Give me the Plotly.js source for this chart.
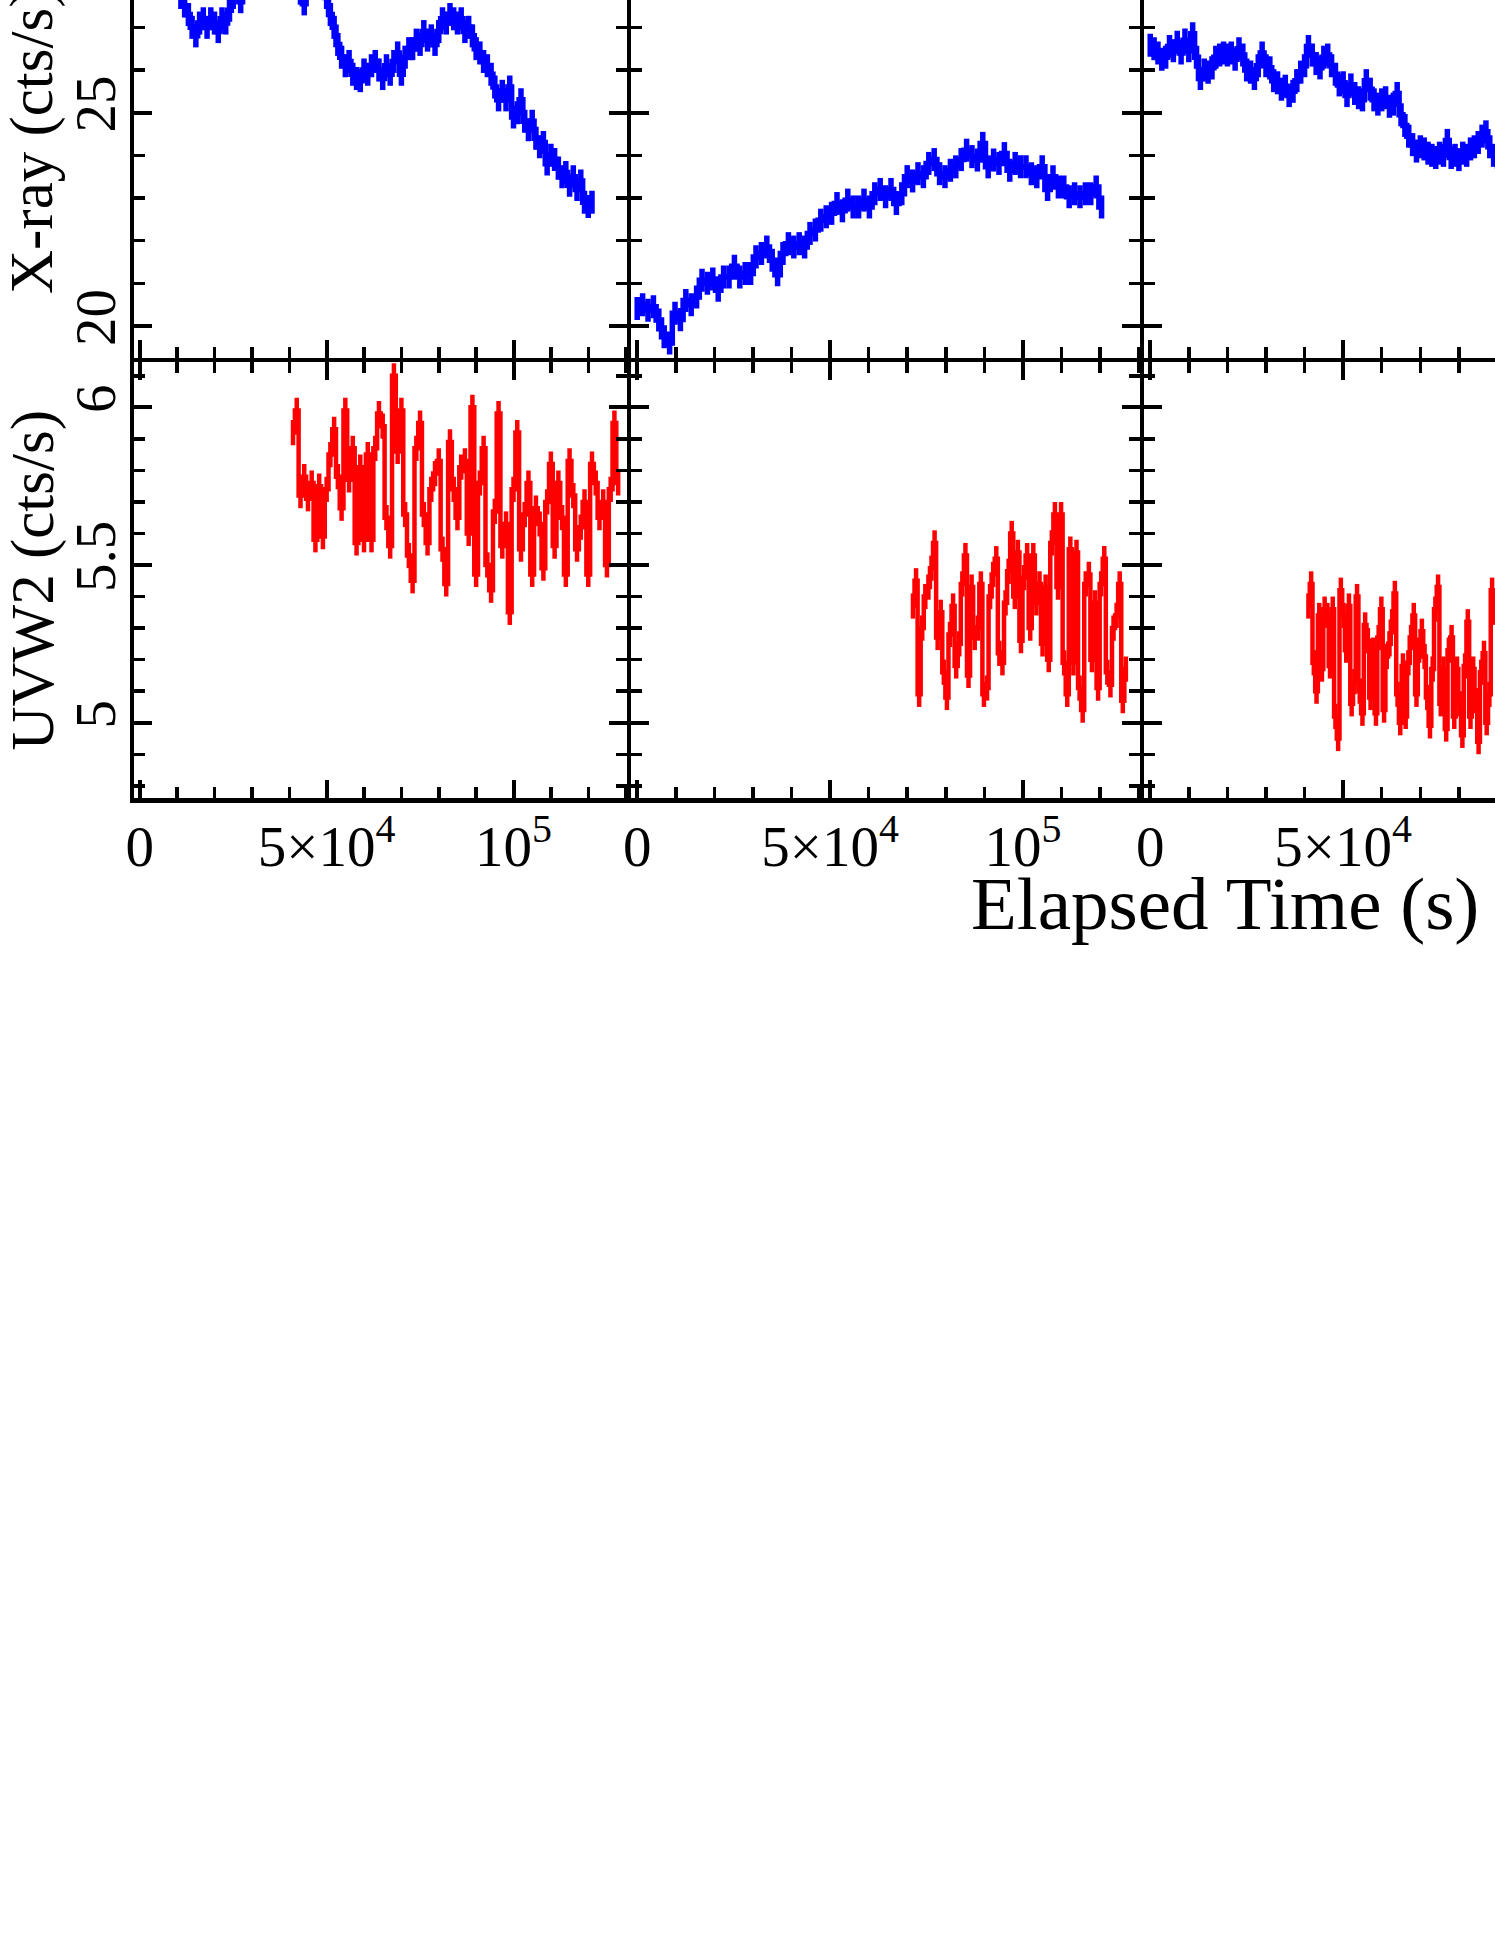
<!DOCTYPE html>
<html><head><meta charset="utf-8">
<script src="https://cdn.plot.ly/plotly-3.0.1.min.js"></script>
<style>
html,body{margin:0;padding:0;background:#fff;overflow:hidden;width:1495px;height:1934px;}
#chart{position:absolute;left:0;top:-100px;width:1700px;height:1100px;}
</style></head><body><div id="chart"></div>
<script>
// ---------- DATA (time in ks, rates in cts/s) ----------
const xray1_t = [11,12,13,14,15,16,17,18,19,20,21,22,23,24,25,26,27,28,29,30,31,32,33,34,35,36,37,38,39,40,41,42,43,44,45,46,47,48,49,50,51,52,53,54,55,56,57,58,59,60,61,62,63,64,65,66,67,68,69,70,71,72,73,74,75,76,77,78,79,80,81,82,83,84,85,86,87,88,89,90,91,92,93,94,95,96,97,98,99,100,101,102,103,104,105,106,107,108,109,110,111,112,113,114,115,116,117,118,119,120,121];
const xray1_r = [27.7,27.5,27.3,27.0,26.8,27.1,27.2,27.0,27.2,27.1,26.9,27.2,27.1,27.4,27.7,27.9,27.6,28.0,28.2,28.4,28.3,28.5,28.6,28.4,28.3,28.5,28.6,28.4,28.2,28.3,28.1,28.0,27.8,27.55,28.0,28.2,28.1,28.3,28.0,27.7,27.3,27.0,26.6,26.3,26.1,26.2,25.9,25.8,25.75,26.0,25.9,26.1,26.2,26.0,25.8,26.1,25.9,26.2,26.4,25.9,26.3,26.5,26.5,26.7,26.6,26.9,26.7,26.8,26.6,26.9,27.2,27.1,27.3,27.2,27.1,27.2,26.9,27.0,26.8,26.5,26.4,26.2,26.1,25.9,25.6,25.3,25.5,25.3,25.6,24.9,25.0,25.3,24.8,24.6,24.8,24.4,24.2,24.3,23.8,24.0,23.9,23.7,23.5,23.6,23.3,23.5,23.2,23.4,22.9,22.8,22.9];

const xray2_t = [0,1.4,2.8,4.2,5.6,7,8.4,9.8,11.2,12.6,14,15.4,16.8,18.2,19.6,21,22.4,23.8,25.2,26.6,28,29.4,30.8,32.2,33.6,35,36.4,37.8,39.2,40.6,42,43.4,44.8,46.2,47.6,49,50.4,51.8,53.2,54.6,56,57.4,58.8,60.2,61.6,63,64.4,65.8,67.2,68.6,70,71.4,72.8,74.2,75.6,77,78.4,79.8,81.2,82.6,84,85.4,86.8,88.2,89.6,91,92.4,93.8,95.2,96.6,98,99.4,100.8,102.2,103.6,105,106.4,107.8,109.2,110.6,112,113.4,114.8,116.2,117.6,119,120.4];
const xray2_r = [20.41,20.50,20.37,20.45,20.14,19.75,19.60,20.30,20.15,20.60,20.50,20.68,21.07,21.00,21.10,20.84,21.15,21.15,21.40,21.15,21.23,21.23,21.62,21.70,21.85,21.54,21.20,21.70,21.93,21.85,21.93,21.85,22.17,22.25,22.48,22.56,22.64,22.87,22.70,22.95,22.79,22.79,22.95,22.79,23.10,23.20,23.03,23.20,22.87,23.10,23.50,23.40,23.57,23.50,23.81,23.90,23.57,23.50,23.65,23.73,23.90,24.12,23.97,23.89,24.28,23.73,23.89,23.81,24.04,23.65,23.81,23.73,23.73,23.57,23.50,23.73,23.20,23.50,23.26,23.26,23.03,23.10,23.03,23.10,23.10,23.26,22.79];

const xray3_t = [0,1,2,3,4,5,6,7,8,9,10,11,12,13,14,15,16,17,18,19,20,21,22,23,24,25,26,27,28,29,30,31,32,33,34,35,36,37,38,39,40,41,42,43,44,45,46,47,48,49,50,51,52,53,54,55,56,57,58,59,60,61,62,63,64,65,66,67,68,69,70,71,72,73,74,75,76,77,78,79,80,81,82,83,84,85,86,87,88,89,90];
const xray3_r = [26.58,26.50,26.40,26.25,26.30,26.55,26.45,26.65,26.40,26.70,26.45,26.85,26.30,25.80,26.00,25.95,26.05,26.30,26.35,26.40,26.35,26.40,26.25,26.50,26.35,26.00,25.95,25.80,26.10,26.40,26.10,26.05,25.75,25.70,25.55,25.62,25.40,25.50,25.75,25.95,26.10,26.55,26.35,26.15,26.05,26.30,26.35,26.10,25.90,25.65,25.70,25.40,25.65,25.45,25.35,25.30,25.75,25.55,25.30,25.20,25.30,25.35,25.15,25.20,25.45,24.95,24.70,24.45,24.25,24.10,24.20,24.15,24.05,24.00,23.95,24.05,24.00,24.35,23.95,24.00,23.90,24.05,24.00,24.15,24.20,24.30,24.45,24.55,24.20,24.00,23.95];

const uv1_t = [41,42,43,44,45,46,47,48,49,50,51,52,53,54,55,56,57,58,59,60,61,62,63,64,65,66,67,68,69,70,71,72,73,74,75,76,77,78,79,80,81,82,83,84,85,86,87,88,89,90,91,92,93,94,95,96,97,98,99,100,101,102,103,104,105,106,107,108,109,110,111,112,113,114,115,116,117,118,119,120,121,122,123,124,125,126,127,128];
const uv1_r = [5.92,5.99,5.72,5.78,5.71,5.76,5.58,5.75,5.59,5.74,5.85,5.93,5.78,5.68,5.99,5.77,5.87,5.57,5.81,5.58,5.85,5.58,5.87,5.98,5.94,5.65,5.56,6.10,5.86,5.99,5.66,5.53,5.45,5.87,5.95,5.66,5.57,5.74,5.79,5.83,5.55,5.44,5.89,5.74,5.65,5.81,5.83,5.60,6.00,5.47,5.76,5.87,5.50,5.42,5.67,5.98,5.56,5.63,5.35,5.74,5.92,5.55,5.66,5.76,5.47,5.68,5.63,5.49,5.70,5.82,5.56,5.76,5.65,5.47,5.83,5.72,5.55,5.62,5.70,5.47,5.82,5.76,5.65,5.70,5.50,5.74,5.95,5.76];

const uv2_t = [71.5,72.3,73.1,73.9,74.7,75.5,76.3,77.1,77.9,78.7,79.5,80.3,81.1,81.9,82.7,83.5,84.3,85.1,85.9,86.7,87.5,88.3,89.1,89.9,90.7,91.5,92.3,93.1,93.9,94.7,95.5,96.3,97.1,97.9,98.7,99.5,100.3,101.1,101.9,102.7,103.5,104.3,105.1,105.9,106.7,107.5,108.3,109.1,109.9,110.7,111.5,112.3,113.1,113.9,114.7,115.5,116.3,117.1,117.9,118.7,119.5,120.3,121.1,121.9,122.7,123.5,124.3,125.1,125.9,126.7];
const uv2_r = [5.37,5.45,5.09,5.30,5.40,5.43,5.49,5.57,5.27,5.35,5.16,5.08,5.28,5.37,5.18,5.25,5.44,5.53,5.15,5.43,5.27,5.30,5.44,5.09,5.11,5.40,5.47,5.52,5.22,5.19,5.38,5.48,5.60,5.40,5.54,5.26,5.46,5.53,5.30,5.53,5.38,5.44,5.25,5.43,5.20,5.57,5.66,5.43,5.66,5.19,5.09,5.55,5.19,5.54,5.11,5.04,5.44,5.47,5.20,5.38,5.11,5.44,5.52,5.16,5.12,5.30,5.34,5.44,5.07,5.17];

const uv3_t = [41,41.7,42.4,43.1,43.8,44.5,45.2,45.9,46.6,47.3,48,48.7,49.4,50.1,50.8,51.5,52.2,52.9,53.6,54.3,55,55.7,56.4,57.1,57.8,58.5,59.2,59.9,60.6,61.3,62,62.7,63.4,64.1,64.8,65.5,66.2,66.9,67.6,68.3,69,69.7,70.4,71.1,71.8,72.5,73.2,73.9,74.6,75.3,76,76.7,77.4,78.1,78.8,79.5,80.2,80.9,81.6,82.3,83,83.7,84.4,85.1,85.8,86.5,87.2,87.9,88.6,89.3];
const uv3_r = [5.37,5.44,5.19,5.10,5.34,5.17,5.36,5.34,5.18,5.36,5.02,4.95,5.42,5.34,5.23,5.37,5.06,5.13,5.40,5.10,5.03,5.31,5.26,5.08,5.23,5.03,5.27,5.36,5.04,5.21,5.25,5.32,5.41,5.09,5.00,5.18,5.02,5.19,5.27,5.34,5.09,5.23,5.29,5.21,5.08,4.99,5.17,5.36,5.43,5.06,5.17,4.98,5.23,5.27,5.02,5.17,5.06,4.96,5.18,5.32,5.02,5.17,5.07,4.94,5.16,5.22,5.00,5.09,5.42,5.35];

const XRAY_ERR = 0.27;
const UV_ERR = 0.04;

const xTickVals = [0, 50000, 100000];
const xTickText = ['0', '5×10<sup>4</sup>', '10<sup>5</sup>'];
const xrayTickVals = [20, 25];
const xrayTickText = ['20', '25'];
const uvTickVals = [5, 5.5, 6];
const uvTickText = ['5', '5.5', '6'];
const xrayTitle = 'X-ray (cts/s)';
const uvTitle = 'UVW2 (cts/s)';
const timeTitle = 'Elapsed Time (s)';

// ---------- PLOT ----------
const FONT = '"Liberation Serif", "Times New Roman", serif';
const toSec = a => a.map(v => v * 1000);

function trace(t, r, err, color, width, xa, ya) {
  return {
    x: toSec(t), y: r, xaxis: xa, yaxis: ya, type: 'scatter', mode: 'lines',
    line: {color: color, width: width, shape: 'hvh'},
    error_y: {type: 'constant', value: err, color: color, thickness: width, width: 0},
    hoverinfo: 'skip', showlegend: false
  };
}

const data = [
  trace(xray1_t, xray1_r, XRAY_ERR, '#0000ff', 5.5, 'x', 'y'),
  trace(xray2_t, xray2_r, XRAY_ERR, '#0000ff', 5.5, 'x2', 'y2'),
  trace(xray3_t, xray3_r, XRAY_ERR, '#0000ff', 5.5, 'x3', 'y3'),
  trace(uv1_t, uv1_r, UV_ERR, '#ff0000', 4.5, 'x4', 'y4'),
  trace(uv2_t, uv2_r, UV_ERR, '#ff0000', 4.5, 'x5', 'y5'),
  trace(uv3_t, uv3_r, UV_ERR, '#ff0000', 4.5, 'x6', 'y6')
];

const colDom = [[0, 0.32439], [0.32735, 0.66212], [0.66508, 1]];
const rowDom = [[0.50314, 1], [0, 0.49800]];

const common = {
  showline: true, linecolor: '#000', linewidth: 4.5, mirror: 'allticks',
  ticks: 'inside', ticklen: 18, tickwidth: 4, tickcolor: '#000',
  showgrid: false, zeroline: false, automargin: false, fixedrange: true,
  tickfont: {family: FONT, size: 57, color: '#000'}
};

function xax(col, row, anchor) {
  return Object.assign({}, common, {
    domain: colDom[col], anchor: anchor, range: [-1550, 130300],
    tickmode: 'array', tickvals: xTickVals, ticktext: xTickText,
    showticklabels: row === 1, ticklabelstandoff: -5,
    minor: {tickmode: 'linear', tick0: 0, dtick: 10000, ticks: 'inside', ticklen: 11, tickwidth: 3.5, tickcolor: '#000', showgrid: false}
  });
}
function yax(col, row, anchor) {
  const isX = row === 0;
  return Object.assign({}, common, {
    domain: rowDom[row], anchor: anchor,
    range: isX ? [19.256, 29.445] : [4.7613, 6.1428],
    tickmode: 'array', tickvals: isX ? xrayTickVals : uvTickVals, ticktext: isX ? xrayTickText : uvTickText,
    showticklabels: col === 0, tickangle: -90, ticklabelstandoff: -8,
    minor: {tickmode: 'linear', tick0: isX ? 20 : 5, dtick: isX ? 1 : 0.1, ticks: 'inside', ticklen: 11, tickwidth: 3.5, tickcolor: '#000', showgrid: false}
  });
}

const titleFont = {family: FONT, size: 61, color: '#000'};
const layout = {
  width: 1700, height: 1100,
  margin: {l: 134, r: 47, t: 23, b: 202},
  paper_bgcolor: '#fff', plot_bgcolor: '#fff', showlegend: false,
  font: {family: FONT, color: '#000'},
  xaxis: xax(0, 0, 'y'), xaxis2: xax(1, 0, 'y2'), xaxis3: xax(2, 0, 'y3'),
  xaxis4: xax(0, 1, 'y4'), xaxis5: xax(1, 1, 'y5'), xaxis6: xax(2, 1, 'y6'),
  yaxis: yax(0, 0, 'x'), yaxis2: yax(1, 0, 'x2'), yaxis3: yax(2, 0, 'x3'),
  yaxis4: yax(0, 1, 'x4'), yaxis5: yax(1, 1, 'x5'), yaxis6: yax(2, 1, 'x6'),
  annotations: [
    {text: timeTitle, xref: 'paper', yref: 'paper', x: 0.71824, y: -0.12114,
     xanchor: 'center', yanchor: 'middle', showarrow: false,
     font: {family: FONT, size: 75, color: '#000'}},
    {text: xrayTitle, xref: 'paper', yref: 'paper', x: -0.0668, y: 0.75143, textangle: -90,
     xanchor: 'center', yanchor: 'middle', showarrow: false, font: titleFont},
    {text: uvTitle, xref: 'paper', yref: 'paper', x: -0.0668, y: 0.24914, textangle: -90,
     xanchor: 'center', yanchor: 'middle', showarrow: false, font: titleFont}
  ]
};

Plotly.newPlot('chart', data, layout, {staticPlot: true, displayModeBar: false});
</script></body></html>
